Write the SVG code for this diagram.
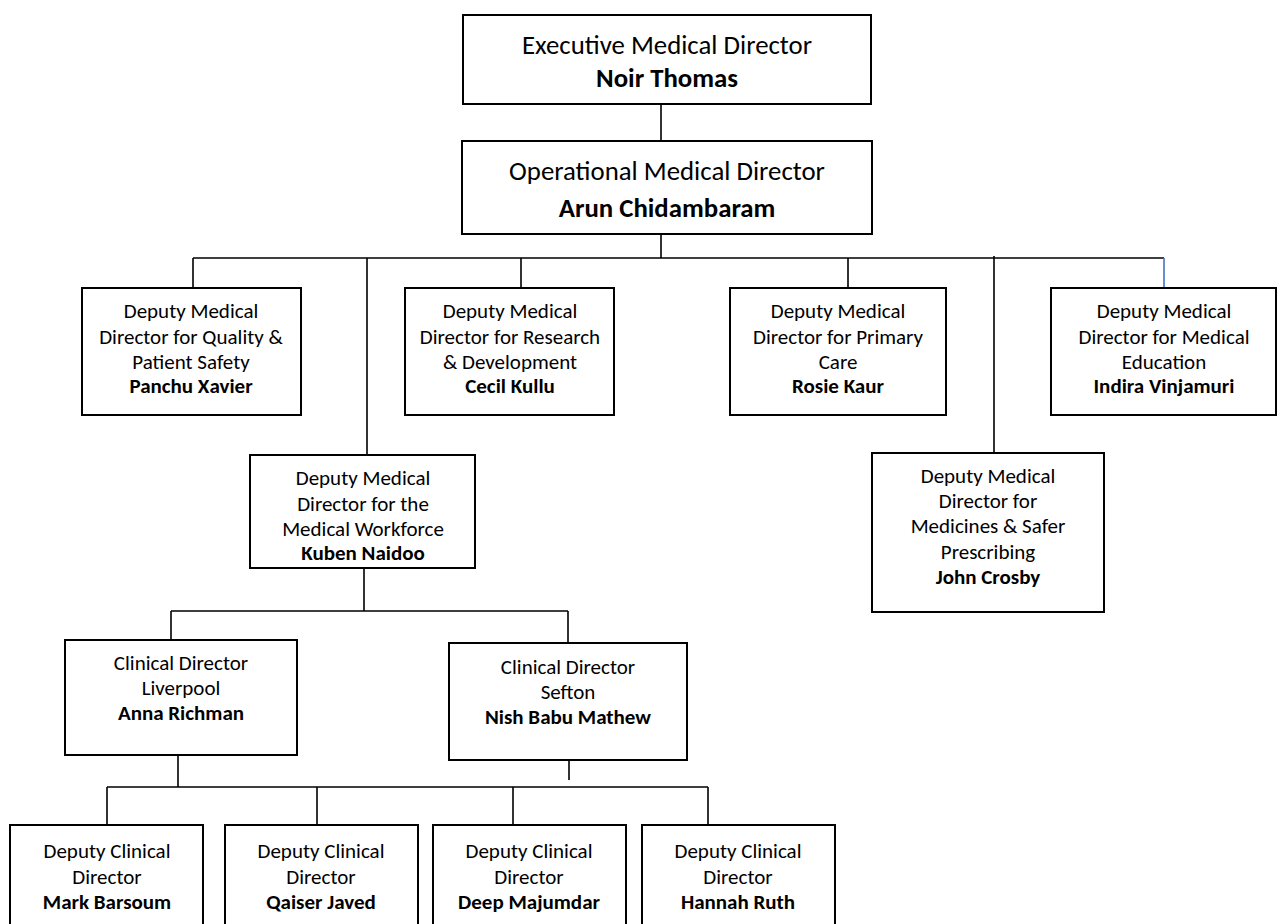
<svg xmlns="http://www.w3.org/2000/svg" width="1277" height="924" viewBox="0 0 1277 924">
<style>
.box{fill:#fff;stroke:#000;stroke-width:2}
.ln{stroke:#000;stroke-width:1.6;fill:none}
text{font-family:Carlito,Lato,"Liberation Sans",sans-serif;text-anchor:middle;fill:#000}
.big{font-size:26.8px}
.t{font-size:21px}
.b{font-weight:bold}
</style>
<rect width="1277" height="924" fill="#fff"/>
<g id="connectors">
<path class="ln" d="M661 104V141M661 234V258M193 258H1164M193 258V288M367 258V455M521 258V288M848 258V288M994 256V453"/>
<path d="M1164 258V288" stroke="#4472c4" stroke-width="1.6"/>
<path class="ln" d="M364 568V611M171 611H568M171 611V640M568 611V643M178 755V787M569 760V780M107 787H708M107 787V825M317 787V825M513 787V825M708 787V825"/>
</g>
<g id="exec"><rect class="box" x="463" y="15" width="408" height="89"/>
<text class="big" x="667" y="54">Executive Medical Director</text><text class="big b" x="667" y="87">Noir Thomas</text></g>
<g id="op"><rect class="box" x="462" y="141" width="410" height="93"/>
<text class="big" x="667" y="180">Operational Medical Director</text><text class="big b" x="667" y="217">Arun Chidambaram</text></g>
<g id="panchu"><rect class="box" x="82" y="288" width="219" height="127"/>
<text class="t" x="191" y="318">Deputy Medical</text><text class="t" x="191" y="344">Director for Quality &amp;</text><text class="t" x="191" y="369">Patient Safety</text><text class="t b" x="191" y="393">Panchu Xavier</text></g>
<g id="cecil"><rect class="box" x="405" y="288" width="209" height="127"/>
<text class="t" x="510" y="318">Deputy Medical</text><text class="t" x="510" y="344">Director for Research</text><text class="t" x="510" y="369">&amp; Development</text><text class="t b" x="510" y="393">Cecil Kullu</text></g>
<g id="rosie"><rect class="box" x="730" y="288" width="216" height="127"/>
<text class="t" x="838" y="318">Deputy Medical</text><text class="t" x="838" y="344">Director for Primary</text><text class="t" x="838" y="369">Care</text><text class="t b" x="838" y="393">Rosie Kaur</text></g>
<g id="indira"><rect class="box" x="1051" y="288" width="225" height="127"/>
<text class="t" x="1164" y="318">Deputy Medical</text><text class="t" x="1164" y="344">Director for Medical</text><text class="t" x="1164" y="369">Education</text><text class="t b" x="1164" y="393">Indira Vinjamuri</text></g>
<g id="kuben"><rect class="box" x="250" y="455" width="225" height="113"/>
<text class="t" x="363" y="485">Deputy Medical</text><text class="t" x="363" y="511">Director for the</text><text class="t" x="363" y="536">Medical Workforce</text><text class="t b" x="363" y="560">Kuben Naidoo</text></g>
<g id="john"><rect class="box" x="872" y="453" width="232" height="159"/>
<text class="t" x="988" y="483">Deputy Medical</text><text class="t" x="988" y="508">Director for</text><text class="t" x="988" y="533">Medicines &amp; Safer</text><text class="t" x="988" y="559">Prescribing</text><text class="t b" x="988" y="584">John Crosby</text></g>
<g id="liverpool"><rect class="box" x="65" y="640" width="232" height="115"/>
<text class="t" x="181" y="670">Clinical Director</text><text class="t" x="181" y="695">Liverpool</text><text class="t b" x="181" y="720">Anna Richman</text></g>
<g id="sefton"><rect class="box" x="449" y="643" width="238" height="117"/>
<text class="t" x="568" y="674">Clinical Director</text><text class="t" x="568" y="699">Sefton</text><text class="t b" x="568" y="724">Nish Babu Mathew</text></g>
<g id="mark"><rect class="box" x="10" y="825" width="193" height="110"/>
<text class="t" x="107" y="858">Deputy Clinical</text><text class="t" x="107" y="884">Director</text><text class="t b" x="107" y="909">Mark Barsoum</text></g>
<g id="qaiser"><rect class="box" x="225" y="825" width="193" height="110"/>
<text class="t" x="321" y="858">Deputy Clinical</text><text class="t" x="321" y="884">Director</text><text class="t b" x="321" y="909">Qaiser Javed</text></g>
<g id="deep"><rect class="box" x="433" y="825" width="193" height="110"/>
<text class="t" x="529" y="858">Deputy Clinical</text><text class="t" x="529" y="884">Director</text><text class="t b" x="529" y="909">Deep Majumdar</text></g>
<g id="hannah"><rect class="box" x="642" y="825" width="193" height="110"/>
<text class="t" x="738" y="858">Deputy Clinical</text><text class="t" x="738" y="884">Director</text><text class="t b" x="738" y="909">Hannah Ruth</text></g>
</svg>
